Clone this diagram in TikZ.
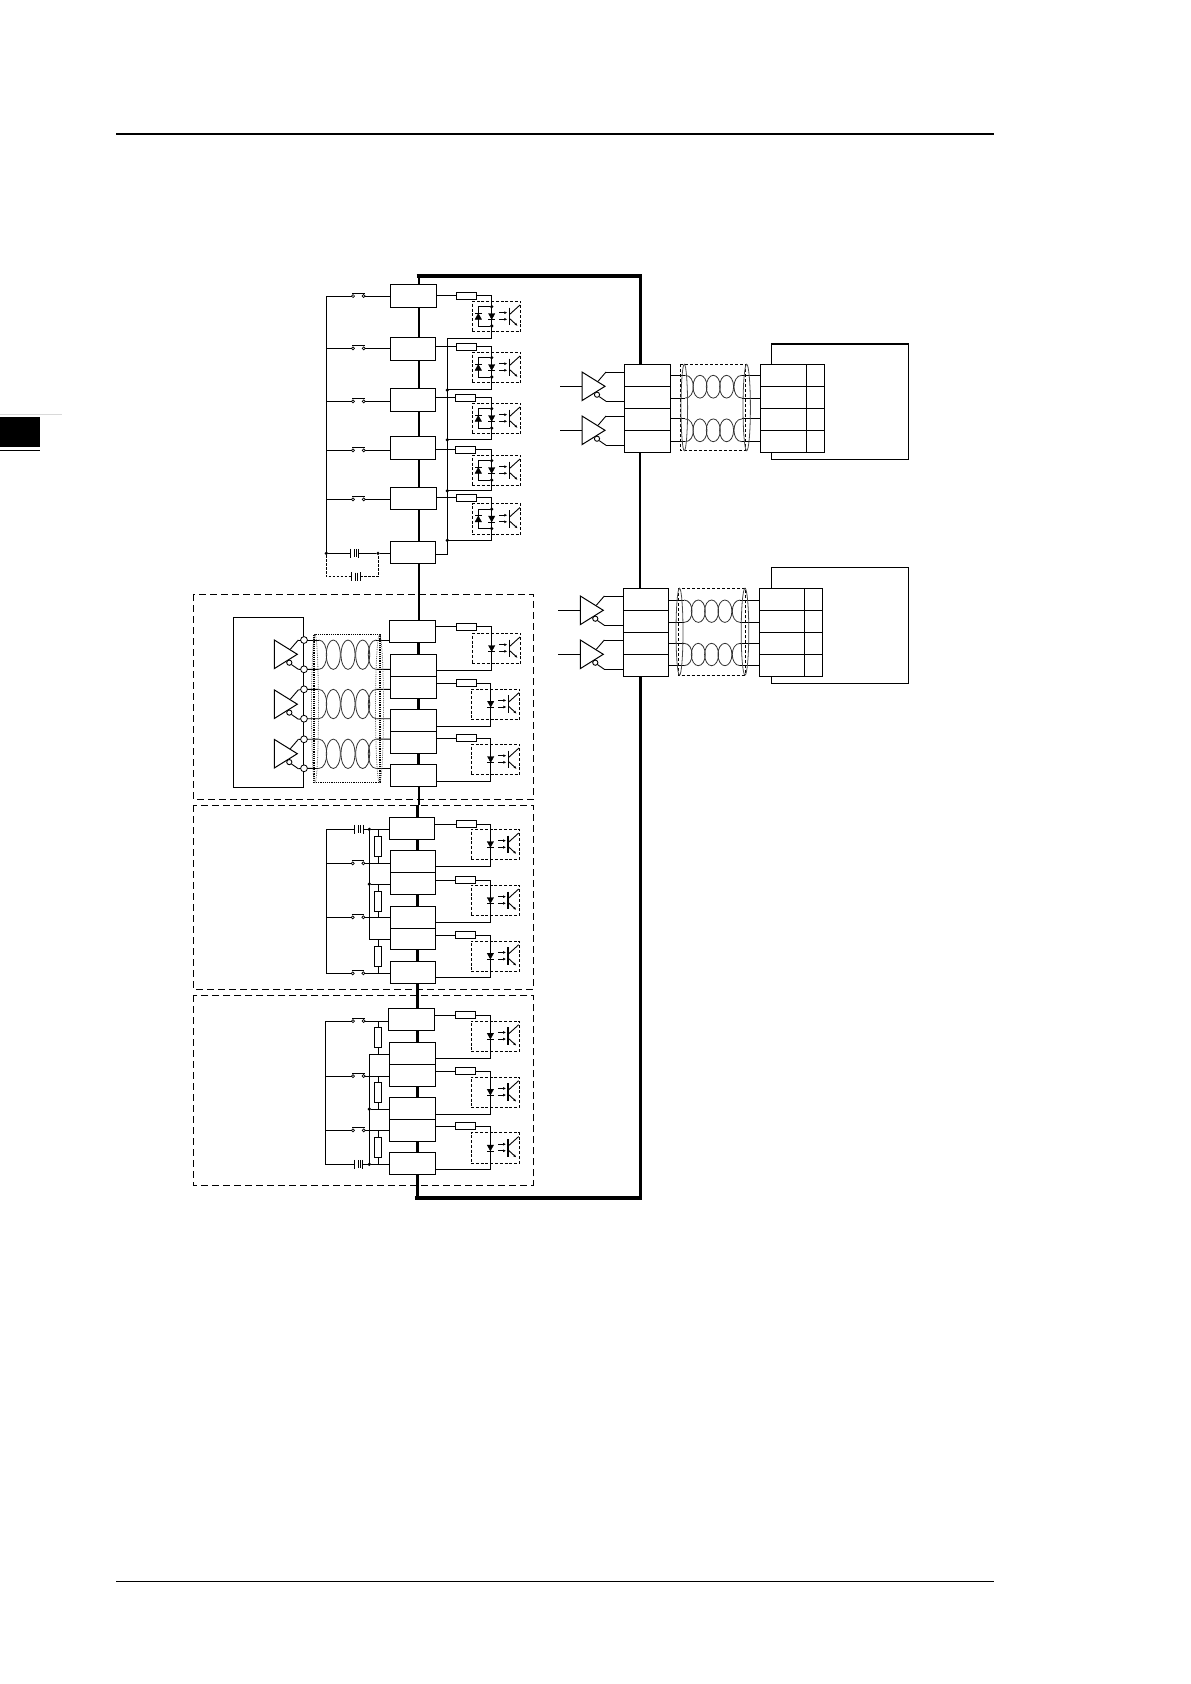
\documentclass[tikz,border=0pt]{standalone}
\usepackage{tikz}
\usetikzlibrary{arrows.meta,calc,shapes.geometric}

\tikzset{
	wire/.style={line width=0.9pt, color=black},
	busline/.style={line width=3pt, color=black, line cap=butt},
	tbox/.style={draw, line width=0.9pt, fill=white, rectangle, inner sep=0pt, outer sep=0pt, anchor=north west},
	rsbox/.style={draw, line width=0.9pt, fill=white, rectangle, inner sep=0pt, outer sep=0pt, minimum width=20.4pt, minimum height=7pt, anchor=north west},
	rvbox/.style={draw, line width=0.9pt, fill=white, rectangle, inner sep=0pt, outer sep=0pt, minimum width=7.3pt, minimum height=20pt},
	optobox/.style={draw, dashed, dash pattern=on 3pt off 1.8pt, line width=0.8pt, rectangle, inner sep=0pt, outer sep=0pt, minimum width=48.4pt, minimum height=30.4pt, anchor=north west},
	zonebox/.style={dash pattern=on 7pt off 4pt, line width=0.9pt},
	swc/.style={draw, circle, fill=white, line width=0.7pt, inner sep=0pt, outer sep=0pt, minimum size=3pt},
	termc/.style={draw, circle, fill=white, line width=0.8pt, inner sep=0pt, outer sep=0pt, minimum size=6.8pt},
	jdot/.style={circle, fill=black, inner sep=0pt, outer sep=0pt, minimum size=3.6pt},
	coilw/.style={line width=0.8pt, color=black!80}
}

% opto coupler, led on the wire column: name, left, top
\def\optoc#1#2#3{
	\begin{scope}[shift={(#2,#3)}]
		\node[optobox] (#1) at (0,0) {};
		\draw[fill=black] (16.2,12.2) -- (22.6,12.2) -- (19.4,18) -- cycle;
		\draw[wire] (16,18.6) -- (22.8,18.6);
		\draw[-{Latex[length=3pt,width=3pt]}, line width=1pt] (27,11.4) -- (35,11.4);
		\draw[-{Latex[length=3pt,width=3pt]}, line width=1pt] (27,18) -- (35,18);
		\draw[line width=1.1pt] (37,6.4) -- (37,23.7);
		\draw[wire] (37,13.4) -- (47.7,3.7);
		\draw[wire, -{Latex[length=3pt,width=2.6pt]}] (37,17) -- (45.3,24.6);
	\end{scope}
}
% the same with the second diode across it
\def\optop#1#2#3{
	\optoc{#1}{#2}{#3}
	\begin{scope}[shift={(#2,#3)}]
		\node[jdot] (#1t) at (19.4,5.4) {};
		\node[jdot] (#1b) at (19.4,24.7) {};
		\draw[wire] (#1t) -- (6,5.4) -- (6,24.7) -- (#1b);
		\draw[fill=black] (2.8,18) -- (9.2,18) -- (6,12.2) -- cycle;
		\draw[wire] (2.8,11.8) -- (9.2,11.8);
	\end{scope}
}
% switch: name, x, y
\def\swtch#1#2#3{
	\node[swc] (#1a) at (#2,#3) {};
	\node[swc] (#1b) at ({#2+10.7},#3) {};
	\draw[wire] ({#2-1},{#3-2.7}) -- ({#2+11.7},{#3-2.7});
}
% battery: name, x, y
\def\batt#1#2#3{
	\coordinate (#1l) at (#2,#3);
	\coordinate (#1r) at ({#2+8.7},#3);
	\draw[wire] (#2,{#3-4.5}) -- (#2,{#3+4.5});
	\draw[wire] ({#2+4.3},{#3-4}) -- ({#2+4.3},{#3+4});
	\draw[wire] ({#2+6.3},{#3-4}) -- ({#2+6.3},{#3+4});
	\draw[wire] ({#2+8.7},{#3-4.5}) -- ({#2+8.7},{#3+4.5});
}
% driver: name, left, tip y
\def\drvr#1#2#3{
	\begin{scope}[shift={(#2,#3)}]
		\draw[line width=1pt, fill=white] (0,-14.3) -- (23,0) -- (0,14.3) -- cycle;
		\draw[wire, fill=white] (15,8.4) circle (2.6);
		\coordinate (#1t) at (24,-14.3);
		\coordinate (#1b) at (24,15);
		\draw[wire] (16,-5) -- (#1t);
		\draw[wire] (17.2,10.3) -- (#1b);
	\end{scope}
}
% coil: name, left arc x, first loop x, spacing, right arc x, mid y, half height
\def\coil#1#2#3#4#5#6#7{
	\coordinate (#1lt) at (#2,{#6-#7});
	\coordinate (#1lb) at (#2,{#6+#7});
	\coordinate (#1rt) at (#5,{#6-#7});
	\coordinate (#1rb) at (#5,{#6+#7});
	\draw[coilw] (#1lt) .. controls ({#2+10.7},{#6-#7}) and ({#2+10.7},{#6+#7}) .. (#1lb);
	\draw[coilw] (#1rt) .. controls ({#5-10.7},{#6-#7}) and ({#5-10.7},{#6+#7}) .. (#1rb);
	\foreach \i in {0,1,2}
		\draw[coilw] ({#3+\i*#4},#6) ellipse [x radius=7, y radius=#7];
}

\begin{document}
\begin{tikzpicture}[x=1pt,y=-1pt]
	%%%%% START %%%%%
	\useasboundingbox (0,0) rectangle (1191,1684);

	% page furniture
	\draw[line width=2pt] (116,134) -- (993.5,134);
	\draw[line width=1pt] (116,1581.5) -- (993.5,1581.5);
	\fill[black] (0,417) rectangle (40,447);
	\draw[line width=1.3pt] (0,450.5) -- (40,450.5);
	\draw[line width=1pt, color=black!15] (0,414) -- (62,414);

	% zones
	\draw[zonebox] (193.3,594) rectangle (533.3,799.3);
	\draw[zonebox] (193.3,805) rectangle (533.3,989.3);
	\draw[zonebox] (193.3,995.3) rectangle (533.3,1185.3);

	% bus
	\draw[line width=4pt] (416.7,276) -- (641.5,276);
	\draw[line width=4pt] (415.3,1198) -- (641.5,1198);
	\draw[line width=2.2pt] (418.7,276) -- (418.7,805);
	\draw[busline] (418.7,642) -- (418.7,764);
	\draw[line width=2.6pt] (417.3,805) -- (417.3,840);
	\draw[busline] (417.3,840) -- (417.3,1196);
	\draw[busline] (640,276) -- (640,364.3);
	\draw[line width=2pt] (640,452.3) -- (640,588.3);
	\draw[busline] (640,676.3) -- (640,1198);

	% remote boxes
	\draw[line width=1.4pt] (771.7,344) rectangle (908.3,459.3);
	\draw[line width=1.4pt] (771.7,567.3) rectangle (908.3,683.3);

	% terminal boxes
	\foreach \n/\x/\y/\w/\h in {tba/390.3/284.3/46.4/23, tbb/390.3/337.3/45.4/23, tbc/390.3/388.3/45.4/23, tbd/390.3/436.3/45.4/23, tbe/390.3/487.3/46.4/21.7, tbf/390.3/541.3/45.4/22,
		uba/389.3/620.3/46.4/22, ubb/390.3/654.3/46.4/22, ubc/390.3/676.3/46.4/22, ubd/390.3/709.3/46.4/22, ube/390.3/731.3/46.4/22, ubf/390.3/764.3/46.4/22,
		vba/389.3/817.3/45/22, vbb/390.7/850.3/45/22, vbc/390.7/872.3/45/22, vbd/390.7/906.3/45/22, vbe/390.7/928.3/45/21, vbf/390.7/961.3/45/22,
		wba/388.3/1008.3/46/22, wbb/389.3/1042.3/46.4/22, wbc/389.3/1064.3/46.4/22, wbd/389.3/1097.3/46.4/22, wbe/389.3/1119.3/46.4/22, wbf/389.3/1152.3/46.4/22}
		\node[tbox, minimum width=\w pt, minimum height=\h pt] (\n) at (\x,\y) {};
	\draw[line width=1.5pt] (vbd.south west) -- (vbd.south east);

	\foreach \i in {1,...,4} {
		\node[tbox, minimum width=46.4pt, minimum height=22pt] (pa\i) at (624.3,{364.3+22*(\i-1)}) {};
		\node[tbox, minimum width=46pt, minimum height=22pt] (pb\i) at (760.3,{364.3+22*(\i-1)}) {};
		\node[tbox, minimum width=18.4pt, minimum height=22pt] (pc\i) at (806.3,{364.3+22*(\i-1)}) {};
		\node[tbox, minimum width=45.4pt, minimum height=22pt] (qa\i) at (623.3,{588.3+22*(\i-1)}) {};
		\node[tbox, minimum width=45.4pt, minimum height=22pt] (qb\i) at (759.3,{588.3+22*(\i-1)}) {};
		\node[tbox, minimum width=18pt, minimum height=22pt] (qc\i) at (804.7,{588.3+22*(\i-1)}) {};
	}

	% resistors on the right
	\foreach \n/\x/\y in {rsa/456.3/292.3, rsb/456.3/343.3, rsc/455.3/394.3, rsd/455.3/446.3, rse/456.3/494.3,
		rua/456.3/623.3, rub/456.3/679.8, ruc/456.3/734.8,
		rva/456.3/820.8, rvb/455.3/876.5, rvc/455.3/931.8,
		rwa/455.3/1011.8, rwb/455.3/1067.8, rwc/455.3/1122.8}
		\node[rsbox] (\n) at (\x,\y) {};

	% opto couplers
	\optop{oa}{472.3}{301.3}
	\optop{ob}{472.3}{352.3}
	\optop{oc}{472.3}{403.3}
	\optop{od}{472.3}{455.3}
	\optop{oe}{472.3}{503.8}
	\optoc{ua}{472.3}{633.3}
	\optoc{ub}{471.3}{689}
	\optoc{uc}{471.3}{744.3}
	\optoc{va}{471}{829.3}
	\optoc{vb}{471}{885.3}
	\optoc{vc}{471}{941}
	\optoc{wa}{471}{1021}
	\optoc{wb}{471}{1077}
	\optoc{wc}{471}{1132.8}

	% wires right of the terminal boxes
	\node[jdot] (ga) at (447.3,390) {};
	\node[jdot] (gb) at (447.3,439.8) {};
	\node[jdot] (gc) at (447.3,490.8) {};
	\node[jdot] (gd) at (447.3,540.3) {};
	\coordinate (gtop) at (447.3,338.3);
	\coordinate (gend) at (447.3,554.3);
	\draw[wire] (gtop) -- (gend) -- (gend -| tbf.east);
	\foreach \rs/\tb/\yb in {rsa/tba/338.3, rsb/tbb/389.8, rsc/tbc/439.8, rsd/tbd/490.8, rse/tbe/540.3}
		\draw[wire] (\rs.west -| \tb.east) -- (\rs.west) (\rs.east) -| (491.7,\yb) -- (447.3,\yb);
	\foreach \rs/\ta/\tb/\cx/\yb in {rua/uba/ubb/491.7/670.3, rub/ubc/ubd/490.7/726.3, ruc/ube/ubf/490.7/781,
		rva/vba/vbb/490.3/866, rvb/vbc/vbd/490.3/922.3, rvc/vbe/vbf/490.3/977.3,
		rwa/wba/wbb/490.3/1058.3, rwb/wbc/wbd/490.3/1114.3, rwc/wbe/wbf/490.3/1169.3}
		\draw[wire] (\rs.west -| \ta.east) -- (\rs.west) (\rs.east) -| (\cx,\yb) -- (\tb.east |- 0,\yb);

	% contacts of the first group
	\foreach \n/\y/\tb in {sa/296/tba, sb/348.3/tbb, sc/401.3/tbc, sd/450.3/tbd, se/499.3/tbe} {
		\swtch{\n}{353}{\y}
		\draw[wire] (326.3,\y) -- (\n a.west) (\n b.east) -- (\n b -| \tb.west);
	}
	\node[jdot] (ja) at (326.3,553.3) {};
	\node[jdot] (jb) at (378,553.3) {};
	\draw[wire] (326.3,296) -- (ja);
	\batt{ba}{350}{553.3}
	\draw[wire] (ja) -- (bal) (bar) -- (jb) -- (jb -| tbf.west);
	\batt{bb}{351.3}{576.7}
	\draw[wire, dash pattern=on 2.5pt off 1.5pt] (ja) -- (326.3,576.7) -- (bbl) (bbr) -- (378,576.7) -- (jb);

	% second group
	\draw[wire] (233.3,617.3) rectangle (303.3,787.3);
	\drvr{da}{274.3}{654.3}
	\drvr{db}{274.3}{704.2}
	\drvr{dc}{274.3}{753.7}
	\foreach \n/\y in {ta/640, tb/669.3, tc/689.3, td/718.7, te/739.3, tf/768.3}
		\node[termc] (\n) at (304,\y) {};
	\coil{ca}{318.7}{333.3}{14.7}{376.3}{654.7}{14.7}
	\coil{cb}{318.7}{333.3}{14.7}{376.3}{704}{14.7}
	\coil{cc}{318.7}{333.3}{14.7}{376.3}{753.8}{14.7}
	\foreach \d/\c/\ta/\tb/\ba/\bb in {da/ca/ta/tb/uba/ubb, db/cb/tc/td/ubc/ubd, dc/cc/te/tf/ube/ubf} {
		\draw[wire] (\d t) -- (\ta) (\ta) -- (\c lt) (\c rt) -- (\c rt -| \ba.west);
		\draw[wire] (\d b) -- (\tb) (\tb) -- (\c lb) (\c rb) -- (\c rb -| \bb.west);
	}
	\draw[line width=1.2pt, densely dotted] (314,634.7) rectangle (380,782.3);
	\draw[line width=0.8pt, densely dotted, color=black!60] (315,708.5) ellipse [x radius=3.5, y radius=73.8];
	\draw[line width=0.8pt, densely dotted, color=black!60] (379.5,708.5) ellipse [x radius=4, y radius=73.8];

	% third group
	\foreach \n/\y/\tb in {sg/863.3/vbb, sh/917.3/vbd, si/973.3/vbf} {
		\swtch{\n}{352.7}{\y}
		\draw[wire] (326,\y) -- (\n a.west) (\n b.east) -- (\n b -| \tb.west);
	}
	\draw[wire] (326,829.3) -- (326,973.3);
	\node[jdot] (jc) at (369.3,829.3) {};
	\node[jdot] (jd) at (369.3,884) {};
	\coordinate (je) at (369.3,939);
	\batt{bc}{354.3}{829.3}
	\draw[wire] (326,829.3) -- (bcl) (bcr) -- (jc) -- (jc -| vba.west);
	\draw[wire] (jc) -- (je) -- (je -| vbe.west) (jd) -- (jd -| vbc.west);
	\node[rvbox] (rga) at (378,846.3) {};
	\node[rvbox] (rgb) at (378,901) {};
	\node[rvbox] (rgc) at (378,956.3) {};
	\foreach \rv/\jt/\sw in {rga/jc/sgb, rgb/jd/shb, rgc/je/sib}
		\draw[wire] (\rv.north |- \jt) -- (\rv.north) (\rv.south) -- (\rv.south |- \sw);

	% fourth group
	\foreach \n/\y/\tb in {sj/1021/wba, sk/1076/wbc, sl/1130.3/wbe} {
		\swtch{\n}{353}{\y}
		\draw[wire] (325.3,\y) -- (\n a.west) (\n b.east) -- (\n b -| \tb.west);
	}
	\draw[wire] (325.3,1021) -- (325.3,1164.3);
	\coordinate (jf) at (369.3,1054);
	\node[jdot] (jg) at (369.3,1109) {};
	\node[jdot] (jh) at (369.3,1164.3) {};
	\batt{bd}{354}{1164.3}
	\draw[wire] (325.3,1164.3) -- (bdl) (bdr) -- (jh) -- (jh -| wbf.west);
	\draw[wire] (wbb.west |- jf) -- (jf) -- (jh) (jg) -- (jg -| wbd.west);
	\node[rvbox] (rja) at (378,1037.7) {};
	\node[rvbox] (rjb) at (378,1092.5) {};
	\node[rvbox] (rjc) at (378,1147.3) {};
	\foreach \rv/\jt/\sw in {rja/sjb/jf, rjb/skb/jg, rjc/slb/jh}
		\draw[wire] (\rv.north |- \jt) -- (\rv.north) (\rv.south) -- (\rv.south |- \sw);

	% upper link
	\coordinate (ia) at (560,386.3);
	\coordinate (ib) at (560,430.3);
	\draw[wire] (ia) -- (582,386.3) (ib) -- (582,430.3);
	\drvr{dd}{582}{386.3}
	\drvr{de}{582}{430.3}
	\draw[wire] (ddt) -- (ddt -| pa1.west) (ddb) -- (ddb -| pa1.west);
	\draw[wire] (det) -- (det -| pa1.west) (deb) -- (deb -| pa1.west);
	\coil{ce}{685.3}{700}{13.3}{742}{386.7}{11.4}
	\coil{cf}{685.3}{700}{13.3}{742}{430.3}{11.4}
	\foreach \c in {ce,cf}
		\draw[wire] (\c lt -| pa1.east) -- (\c lt) (\c lb -| pa1.east) -- (\c lb) (\c rt) -- (\c rt -| pb1.west) (\c rb) -- (\c rb -| pb1.west);
	\draw[line width=0.8pt, densely dashed] (680,364.3) rectangle (745,450.7);
	\draw[line width=0.8pt, color=black!70] (684.3,407.5) ellipse [x radius=3.3, y radius=43.2];
	\draw[line width=0.8pt, color=black!70] (746.7,407.5) ellipse [x radius=3.7, y radius=43.2];

	% lower link
	\coordinate (ic) at (558,610.3);
	\coordinate (id) at (558,654.3);
	\draw[wire] (ic) -- (580.3,610.3) (id) -- (580.3,654.3);
	\drvr{df}{580.3}{610.3}
	\drvr{dg}{580.3}{654.3}
	\draw[wire] (dft) -- (dft -| qa1.west) (dfb) -- (dfb -| qa1.west);
	\draw[wire] (dgt) -- (dgt -| qa1.west) (dgb) -- (dgb -| qa1.west);
	\coil{cg}{684}{698.3}{13.3}{740.3}{611.2}{11.2}
	\coil{ch}{684}{698.3}{13.3}{740.3}{654.5}{11.2}
	\foreach \c in {cg,ch}
		\draw[wire] (\c lt -| qa1.east) -- (\c lt) (\c lb -| qa1.east) -- (\c lb) (\c rt) -- (\c rt -| qb1.west) (\c rb) -- (\c rb -| qb1.west);
	\draw[line width=0.8pt, densely dashed] (678.3,588.3) rectangle (745,675);
	\draw[line width=0.8pt, color=black!70] (679.5,631.7) ellipse [x radius=3.5, y radius=43.4];
	\draw[line width=0.8pt, color=black!70] (745,631.7) ellipse [x radius=3.8, y radius=43.4];

	%%%%% END %%%%%
\end{tikzpicture}
\end{document}
